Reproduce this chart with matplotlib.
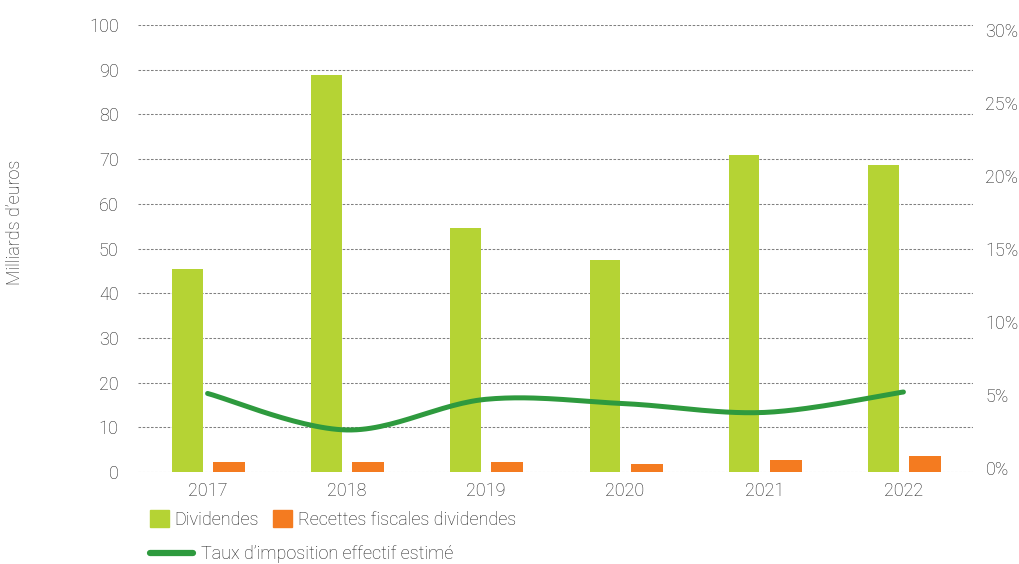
import matplotlib
matplotlib.use("Agg")
import matplotlib.pyplot as plt
from matplotlib.patches import Patch
from matplotlib.lines import Line2D
import numpy as np

plt.rcParams['font.family'] = ['Roboto', 'DejaVu Sans']
plt.rcParams['font.weight'] = 'light'

# données
annees = ["2017", "2018", "2019", "2020", "2021", "2022"]
dividendes = [45.4, 88.8, 54.6, 47.4, 70.9, 68.7]
recettes = [2.2, 2.2, 2.2, 1.9, 2.7, 3.6]
taux = [5.1, 2.6, 4.7, 4.4, 3.8, 5.2]

VERT = "#b5d334"
ORANGE = "#f47b20"
VERT_FONCE = "#2e9a3e"
TEXTE = "#1e1e1e"


def _lisser(x, y, px_x=139.0, px_y=14.6, n=30):
    """courbe lissée type Catmull-Rom (rendu 'lissé' du tableur)"""
    pts = np.column_stack([np.asarray(x, float) * px_x, np.asarray(y, float) * px_y])
    pts = np.vstack([pts[0], pts, pts[-1]])
    out = []
    for i in range(1, len(pts) - 2):
        p0, p1, p2, p3 = pts[i - 1], pts[i], pts[i + 1], pts[i + 2]
        t = np.linspace(0, 1, n)[:, None]
        c = 0.5 * ((2 * p1) + (-p0 + p2) * t + (2 * p0 - 5 * p1 + 4 * p2 - p3) * t ** 2
                   + (-p0 + 3 * p1 - 3 * p2 + p3) * t ** 3)
        out.append(c if i == 1 else c[1:])
    c = np.vstack(out)
    return c[:, 0] / px_x, c[:, 1] / px_y


W, H = 1019, 564
fig = plt.figure(figsize=(W / 100, H / 100), dpi=100)
ax = fig.add_axes([138 / W, 1 - 472 / H, (973 - 138) / W, (472 - 25) / H])

x = np.arange(len(annees))
ax.bar(x - 0.145, dividendes, width=0.22, color=VERT, zorder=2)
ax.bar(x + 0.155, recettes, width=0.23, color=ORANGE, zorder=2)

ax.set_xlim(-0.5, 5.5)
ax.set_ylim(0, 100)
ax.set_yticks(range(0, 101, 10))
ax.set_xticks(x)
ax.set_xticklabels(annees)
ax.grid(axis="y", linestyle=(0, (2.5, 1.5)), color="#808080", linewidth=0.75, zorder=0)
for s in ax.spines.values():
    s.set_visible(False)
ax.tick_params(axis="y", length=0, pad=14, labelsize=13, labelcolor=TEXTE)
ax.tick_params(axis="x", length=0, pad=7, labelsize=13, labelcolor=TEXTE)

ax2 = ax.twinx()
ax2.set_ylim(-0.28, 30.34)
ax2.set_yticks(range(0, 31, 5))
ax2.set_yticklabels([f"{v}%" for v in range(0, 31, 5)])
for s in ax2.spines.values():
    s.set_visible(False)
ax2.tick_params(axis="y", length=0, pad=9, labelsize=13, labelcolor=TEXTE)

cx, cy = _lisser(x, taux)
ax2.plot(cx, cy, color=VERT_FONCE, linewidth=3.6, solid_capstyle="round", zorder=3)

fig.text(15 / W, 1 - 222 / H, "Milliards d’euros", rotation=90, ha="center", va="center",
         fontsize=13, color=TEXTE)

h1 = [Patch(color=VERT), Patch(color=ORANGE)]
leg1 = fig.legend(h1, ["Dividendes", "Recettes fiscales dividendes"], ncol=2, frameon=False,
                  loc="upper left", bbox_to_anchor=(150 / W, 1 - 510 / H), fontsize=13,
                  handlelength=1.05, handleheight=1.05, handletextpad=0.3, columnspacing=0.8,
                  borderaxespad=0, borderpad=0)
for t in leg1.get_texts():
    t.set_color(TEXTE)
h2 = [Line2D([], [], color=VERT_FONCE, linewidth=4.5, solid_capstyle="round")]
leg2 = fig.legend(h2, ["Taux d’imposition effectif estimé"], frameon=False,
                  loc="upper left", bbox_to_anchor=(150 / W, 1 - 545 / H), fontsize=13,
                  handlelength=2.4, handletextpad=0.4, borderaxespad=0, borderpad=0)
for t in leg2.get_texts():
    t.set_color(TEXTE)

fig.savefig("out.png", dpi=100)
